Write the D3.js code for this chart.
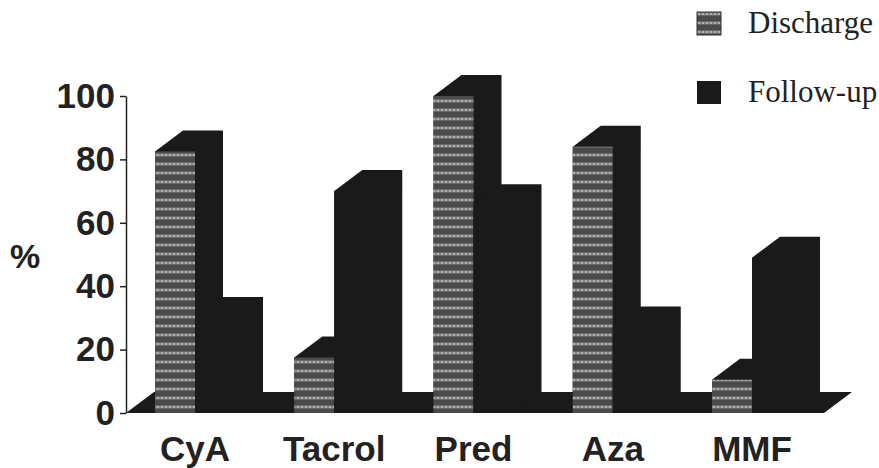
<!DOCTYPE html>
<html>
<head>
<meta charset="utf-8">
<script src="https://cdn.jsdelivr.net/npm/d3@7"></script>
<style>
  html, body { margin: 0; padding: 0; background: #fff; }
  svg { display: block; }
</style>
</head>
<body>
<div id="chart"></div>
<script>
const categories = ["CyA", "Tacrol", "Pred", "Aza", "MMF"];
const seriesNames = ["Discharge", "Follow-up"];
const discharge = [82.5, 17.5, 100, 84, 10.5];
const followUp = [30, 70, 65.5, 27, 49];
const yTicks = [0, 20, 40, 60, 80, 100];

const width = 879, height = 468;
const dark = "#1a1a1a";
const depthX = 28, depthY = 21;

const svg = d3.select("#chart").append("svg")
  .attr("width", width)
  .attr("height", height)
  .attr("viewBox", [0, 0, width, height]);

// motif gris raye des barres Discharge
const defs = svg.append("defs");
const hatch = defs.append("pattern")
  .attr("id", "hatch")
  .attr("patternUnits", "userSpaceOnUse")
  .attr("width", 4)
  .attr("height", 9)
  .attr("y", 413 % 9);
hatch.append("rect").attr("width", 4).attr("height", 9).attr("fill", "#4a4a4a");
hatch.append("rect").attr("y", 1.5).attr("width", 4).attr("height", 3).attr("fill", "#858585");
hatch.append("circle").attr("cx", 2).attr("cy", 3).attr("r", 1).attr("fill", "#bdbdbd");

const y = d3.scaleLinear().domain([0, 100]).range([413, 96]);
const x = d3.scaleBand().domain(categories).range([155, 792]).paddingInner(0.4255);
const xSeries = d3.scaleBand().domain(seriesNames).range([0, x.bandwidth()]);

const plot = svg.append("g");

// plancher 3D
const floorPts = [
  [x.range()[0] - 29, y(0)],
  [x.range()[0] - 29 + depthX, y(0) - depthY],
  [x.range()[1] + 32 + depthX, y(0) - depthY],
  [x.range()[1] + 32, y(0)],
];
plot.append("polygon")
  .attr("points", floorPts.join(" "))
  .attr("fill", dark);

// barres : dessus + cote en une seule forme noire, puis face avant
function drawBar(g, x0, w, value, frontFill) {
  const top = y(value), base = y(0);
  g.append("polygon")
    .attr("points", [
      [x0, top],
      [x0 + depthX, top - depthY],
      [x0 + w + depthX, top - depthY],
      [x0 + w + depthX, base - depthY],
      [x0 + w, base],
      [x0, base],
    ].join(" "))
    .attr("fill", dark);
  g.append("rect")
    .attr("x", x0)
    .attr("y", top)
    .attr("width", w)
    .attr("height", base - top)
    .attr("fill", frontFill);
}

categories.forEach((c, i) => {
  const g = plot.append("g");
  drawBar(g, x(c) + xSeries("Discharge"), xSeries.bandwidth(), discharge[i], "url(#hatch)");
  drawBar(g, x(c) + xSeries("Follow-up"), xSeries.bandwidth(), followUp[i], dark);
});

// axe Y
const yAxis = svg.append("g")
  .attr("transform", "translate(126,0)")
  .call(d3.axisLeft(y).tickValues(yTicks).tickSize(6).tickPadding(5).tickSizeOuter(0));
yAxis.select(".domain").attr("stroke", "#222").attr("stroke-width", 1.5);
yAxis.selectAll("line").attr("stroke", "#222").attr("stroke-width", 1.5);
yAxis.selectAll("text")
  .attr("font-family", "'Liberation Sans', Arial, sans-serif")
  .attr("font-weight", "bold")
  .attr("font-size", 35)
  .attr("fill", "#222");

// axe X : seulement les libelles
svg.append("g")
  .selectAll("text")
  .data(categories)
  .join("text")
  .attr("x", d => x(d) + x.bandwidth() / 2)
  .attr("y", 461)
  .attr("text-anchor", "middle")
  .attr("font-family", "'Liberation Sans', Arial, sans-serif")
  .attr("font-weight", "bold")
  .attr("font-size", 35)
  .attr("fill", "#222")
  .text(d => d);

svg.append("text")
  .attr("x", 10)
  .attr("y", 268)
  .attr("font-family", "'Liberation Sans', Arial, sans-serif")
  .attr("font-weight", "bold")
  .attr("font-size", 34)
  .attr("fill", "#222")
  .text("%");

// legende
const legendY = d3.scalePoint().domain(seriesNames).range([12, 81]);
const legend = svg.append("g")
  .selectAll("g")
  .data(seriesNames)
  .join("g")
  .attr("transform", d => `translate(697,${legendY(d)})`);
legend.append("rect")
  .attr("width", 24)
  .attr("height", 23)
  .attr("fill", (d, i) => i === 0 ? "url(#hatch)" : dark)
  .attr("stroke", (d, i) => i === 0 ? "#333" : "none");
legend.append("text")
  .attr("x", 51)
  .attr("y", (d, i) => i === 0 ? 21 : 21)
  .attr("font-family", "'Liberation Serif', 'Times New Roman', serif")
  .attr("font-size", 31)
  .attr("fill", "#222")
  .text(d => d);
</script>
</body>
</html>
